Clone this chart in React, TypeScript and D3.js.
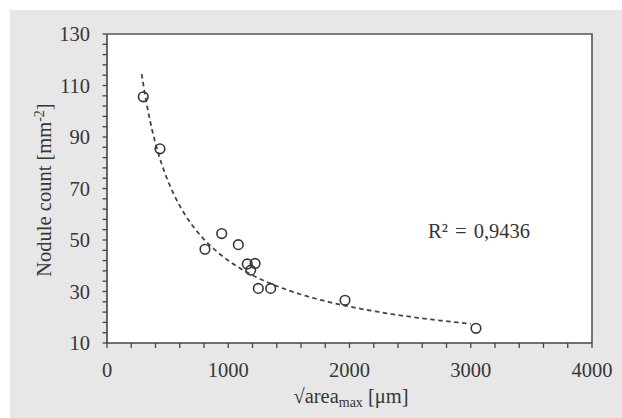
import React, { useEffect, useRef } from "react";
import * as d3 from "d3";

// Data
const areaMax = [299, 437, 808, 946, 1083, 1157, 1221, 1185, 1248, 1350, 1963, 3043];
const noduleCount = [105.6, 85.4, 46.4, 52.5, 48.2, 40.7, 40.9, 38.3, 31.2, 31.2, 26.6, 15.7];

// Power trend line y = a * x^b
const trendA = 10560;
const trendB = -0.8;
const trendRange = [286, 3000];
const r2Label = "R² = 0,9436";

const xTicksMajor = [0, 1000, 2000, 3000, 4000];
const yTicksMajor = [10, 30, 50, 70, 90, 110, 130];

const W = 622;
const H = 418;
const M = { left: 107, right: 592, top: 34, bottom: 343 };

export default function App() {
  const ref = useRef<SVGSVGElement | null>(null);

  useEffect(() => {
    const svg = d3.select(ref.current);
    svg.selectAll("*").remove();

    const font = "Liberation Serif";
    const ink = "#363636";
    const fs = "20.5px";

    const x = d3.scaleLinear().domain([0, 4000]).range([M.left, M.right]);
    const y = d3.scaleLinear().domain([10, 130]).range([M.bottom, M.top]);

    svg.append("rect").attr("x", 10).attr("y", 10).attr("width", W - 10).attr("height", H - 10).attr("fill", "#e7e7e7");
    svg.append("rect").attr("x", M.left).attr("y", M.top).attr("width", M.right - M.left).attr("height", M.bottom - M.top).attr("fill", "#ffffff");

    // frame top & right
    svg.append("path")
      .attr("d", `M${M.left},${M.top}H${M.right}V${M.bottom}`)
      .attr("fill", "none").attr("stroke", "#555").attr("stroke-width", 1.6);

    // x axis
    const xMinor = d3.range(0, 4001, 200);
    const gx = svg.append("g");
    gx.append("line").attr("x1", M.left).attr("x2", M.right).attr("y1", M.bottom).attr("y2", M.bottom).attr("stroke", "#444").attr("stroke-width", 1.6);
    gx.selectAll("line.t").data(xMinor).enter().append("line").attr("class", "t")
      .attr("x1", (d) => x(d)).attr("x2", (d) => x(d)).attr("y1", M.bottom).attr("y2", M.bottom + 5)
      .attr("stroke", "#444").attr("stroke-width", 1.3);
    gx.selectAll("text").data(xTicksMajor).enter().append("text")
      .attr("x", (d) => x(d)).attr("y", 377).attr("text-anchor", "middle")
      .style("font-family", font).style("font-size", fs).attr("fill", ink).text((d) => String(d));

    // y axis
    const yMinor = d3.range(10, 131, 4);
    const gy = svg.append("g");
    gy.append("line").attr("x1", M.left).attr("x2", M.left).attr("y1", M.top).attr("y2", M.bottom).attr("stroke", "#444").attr("stroke-width", 1.6);
    gy.selectAll("line.t").data(yMinor).enter().append("line").attr("class", "t")
      .attr("x1", M.left - 4.5).attr("x2", M.left).attr("y1", (d) => y(d)).attr("y2", (d) => y(d))
      .attr("stroke", "#444").attr("stroke-width", 1.3);
    gy.selectAll("text").data(yTicksMajor).enter().append("text")
      .attr("x", 90).attr("y", (d) => y(d) + 7).attr("text-anchor", "end")
      .style("font-family", font).style("font-size", fs).attr("fill", ink).text((d) => String(d));

    // trend line
    const trendPts = d3.range(0, 101).map((i) => {
      const xv = trendRange[0] + ((trendRange[1] - trendRange[0]) * i) / 100;
      return [xv, trendA * Math.pow(xv, trendB)] as [number, number];
    });
    svg.append("path")
      .attr("d", d3.line<[number, number]>().x((d) => x(d[0])).y((d) => y(d[1]))(trendPts) as string)
      .attr("fill", "none").attr("stroke", "#444").attr("stroke-width", 1.8).attr("stroke-dasharray", "4.5,3.5");

    // points
    svg.selectAll("circle.p").data(areaMax.map((v, i) => [v, noduleCount[i]])).enter().append("circle")
      .attr("class", "p")
      .attr("cx", (d) => x(d[0])).attr("cy", (d) => y(d[1])).attr("r", 4.8)
      .attr("fill", "none").attr("stroke", "#363636").attr("stroke-width", 1.6);

    // R^2
    svg.append("text").attr("x", 428).attr("y", 238)
      .style("font-family", font).style("font-size", fs).style("word-spacing", "2px").attr("fill", ink).text(r2Label);

    // x label
    const xl = svg.append("text").attr("x", 351).attr("y", 403).attr("text-anchor", "middle")
      .style("font-family", font).style("font-size", fs).attr("fill", ink);
    xl.append("tspan").text("√area");
    xl.append("tspan").style("font-size", "14px").attr("dy", 4).text("max");
    xl.append("tspan").attr("dy", -4).text(" [μm]");

    // y label
    const yl = svg.append("text")
      .attr("transform", `translate(51,190) rotate(-90)`).attr("text-anchor", "middle")
      .style("font-family", font).style("font-size", fs).attr("fill", ink);
    yl.append("tspan").text("Nodule count  [mm");
    yl.append("tspan").style("font-size", "14px").attr("dy", -7).text("-2");
    yl.append("tspan").attr("dy", 7).text("]");
  }, []);

  return (
    <svg ref={ref} width={W} height={H} style={{ position: "absolute", left: 0, top: 0, display: "block" }} />
  );
}
